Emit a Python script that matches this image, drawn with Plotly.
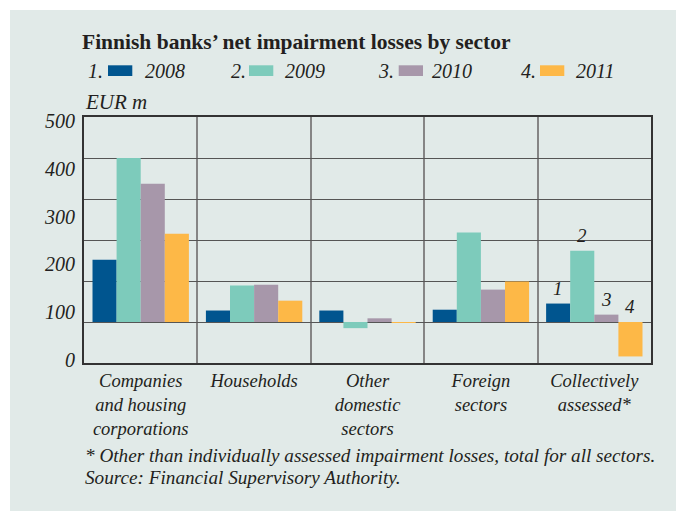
import plotly.graph_objects as go

categories = ["Companies<br>and housing<br>corporations", "Households",
              "Other<br>domestic<br>sectors", "Foreign<br>sectors",
              "Collectively<br>assessed*"]
years = ["2008", "2009", "2010", "2011"]
v2008 = [152, 28, 28, 30, 45]
v2009 = [400, 89, -15, 218, 174]
v2010 = [337, 91, 9, 79, 18]
v2011 = [215, 52, -2, 99, -84]
series = [v2008, v2009, v2010, v2011]
colors = ["#00558f", "#7dcbbb", "#a797aa", "#fdb847"]
ytick_vals = [0, 100, 200, 300, 400, 500]
ytick_text = ["0", "100", "200", "300", "400", "500"]
bar_labels = ["1", "2", "3", "4"]

W, H = 676, 511
ML, MR, MT, MB = 84, 25, 117, 148
PW = W - ML - MR
PH = H - MT - MB
BG = "#e1eae8"
SERIF = "Liberation Serif"
TXT = "#231f20"


def px(x):
    return (x - ML) / PW


def py(y):
    return (H - MB - y) / PH


fig = go.Figure()
for name, vals, col in zip(years, series, colors):
    fig.add_trace(go.Bar(x=categories, y=vals, name=name, marker_color=col,
                         marker_line_width=0, showlegend=False,
                         hoverinfo="x+y"))

# helper trace for the label axis
fig.add_trace(go.Scatter(x=[categories[0]], y=[0], yaxis="y2", mode="markers",
                         marker=dict(opacity=0), showlegend=False,
                         hoverinfo="skip"))

# numbered labels above the collectively assessed bars
offsets = [-36, -12, 12, 36]
for lab, vals, off in zip(bar_labels, series, offsets):
    v = vals[-1]
    fig.add_annotation(x=categories[-1], y=max(v, 0), xref="x", yref="y",
                       text=lab, showarrow=False, xshift=off, yshift=3,
                       yanchor="bottom",
                       font=dict(family=SERIF, size=19, color=TXT,
                                 style="italic"))

shapes = []
# white margins outside the panel
shapes.append(dict(type="rect", xref="paper", yref="paper", x0=px(0), x1=px(W),
                   y0=py(10), y1=py(0), fillcolor="white", line_width=0,
                   layer="below"))
shapes.append(dict(type="rect", xref="paper", yref="paper", x0=px(0), x1=px(10),
                   y0=py(H), y1=py(0), fillcolor="white", line_width=0,
                   layer="below"))

# legend
leg_num_x = [85.7, 228.7, 376, 519.3]
sw_x = [108, 249, 398.7, 540]
yr_x = [142.7, 282.7, 430.3, 573.7]
for i in range(4):
    fig.add_annotation(x=px(leg_num_x[i]), y=py(70.7), xref="paper",
                       yref="paper", text=f"{i+1}.", showarrow=False,
                       xanchor="left", yanchor="middle",
                       font=dict(family=SERIF, size=20, color=TXT,
                                 style="italic"))
    fig.add_annotation(x=px(yr_x[i]), y=py(70.7), xref="paper",
                       yref="paper", text=years[i], showarrow=False,
                       xanchor="left", yanchor="middle",
                       font=dict(family=SERIF, size=20, color=TXT,
                                 style="italic"))
    shapes.append(dict(type="rect", xref="paper", yref="paper",
                       x0=px(sw_x[i]), x1=px(sw_x[i] + 24.3),
                       y0=py(76), y1=py(65.3), fillcolor=colors[i],
                       line_width=0))

fig.add_annotation(x=px(80), y=py(42), xref="paper", yref="paper",
                   text="<b>Finnish banks\u2019 net impairment losses by sector</b>",
                   showarrow=False, xanchor="left", yanchor="middle",
                   font=dict(family=SERIF, size=21.5, color=TXT))
fig.add_annotation(x=px(83), y=py(101.7), xref="paper", yref="paper",
                   text="EUR m", showarrow=False, xanchor="left",
                   yanchor="middle",
                   font=dict(family=SERIF, size=21, color=TXT, style="italic"))
fig.add_annotation(x=px(8), y=py(5), xref="paper", yref="paper",
                   text="Chart 16.", showarrow=False, xanchor="left",
                   yanchor="bottom",
                   font=dict(family=SERIF, size=19, color="#4f9a80",
                             style="italic"))
fig.add_annotation(x=px(83), y=py(455), xref="paper", yref="paper",
                   text="* Other than individually assessed impairment losses, total for all sectors.",
                   showarrow=False, xanchor="left", yanchor="middle",
                   font=dict(family=SERIF, size=19.2, color=TXT,
                             style="italic"))
fig.add_annotation(x=px(83), y=py(477.7), xref="paper", yref="paper",
                   text="Source: Financial Supervisory Authority.",
                   showarrow=False, xanchor="left", yanchor="middle",
                   font=dict(family=SERIF, size=19.2, color=TXT,
                             style="italic"))

fig.update_layout(
    width=W, height=H,
    margin=dict(l=ML, r=MR, t=MT, b=MB, pad=0),
    paper_bgcolor=BG, plot_bgcolor=BG,
    barmode="group", bargap=0.15, bargroupgap=0,
    shapes=shapes,
    font=dict(family=SERIF, color=TXT),
    xaxis=dict(type="category", tickson="boundaries", showgrid=True,
               gridcolor="#858585", gridwidth=1.6, ticks="",
               showline=True, mirror=True, linecolor="#333333", linewidth=1.5,
               tickfont=dict(family=SERIF, size=18.5, color=TXT,
                             style="italic"),
               ticklabelstandoff=0, fixedrange=True),
    yaxis=dict(range=[-100, 500], dtick=100, showgrid=True,
               gridcolor="#555555", gridwidth=1.2, zeroline=False,
               showticklabels=False, ticks="", showline=True, mirror=True,
               linecolor="#333333", linewidth=1.5, fixedrange=True),
    yaxis2=dict(overlaying="y", side="left", anchor="x", range=[-7, 509],
                tickvals=ytick_vals, ticktext=ytick_text, showgrid=False,
                zeroline=False, showline=False, ticks="",
                ticklabelstandoff=8,
                tickfont=dict(family=SERIF, size=20, color=TXT,
                              style="italic"), fixedrange=True),
)

fig.write_html("out.html", config={"displayModeBar": False},
               post_script="document.body.style.margin='0px';")
